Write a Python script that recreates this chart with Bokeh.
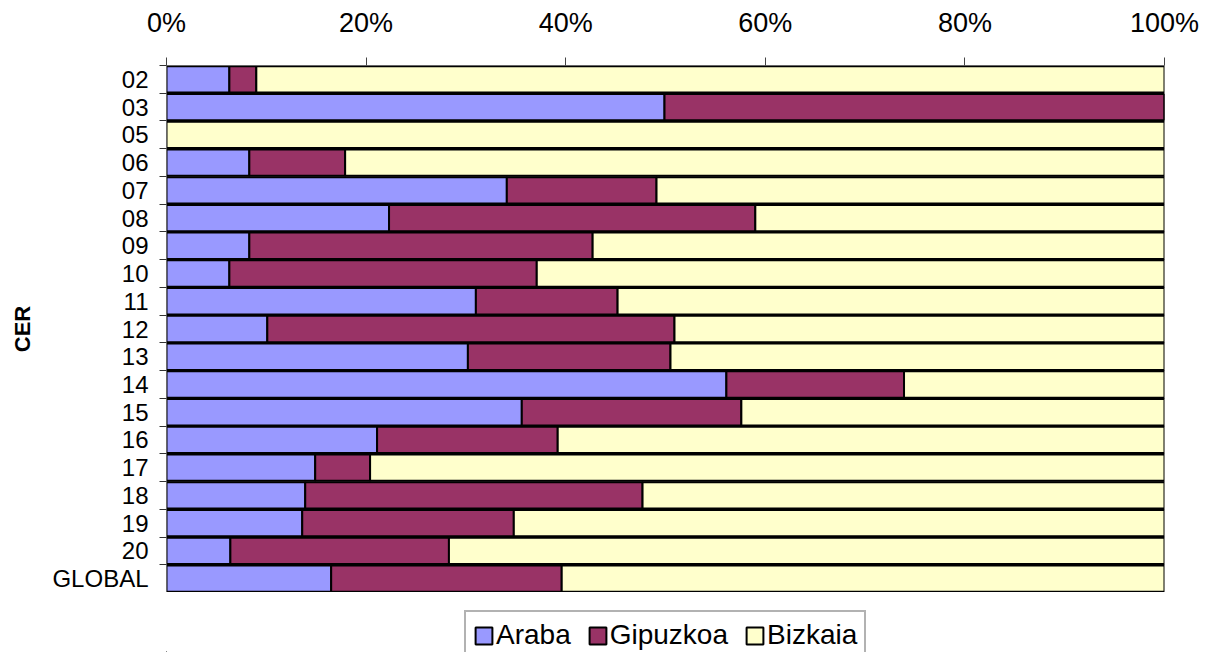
from bokeh.plotting import figure
from bokeh.layouts import column
from bokeh.models import FixedTicker, Legend, LegendItem, Range1d, ColumnDataSource
from bokeh.embed import file_html
from bokeh.resources import INLINE

categories = ["02", "03", "05", "06", "07", "08", "09", "10", "11", "12",
              "13", "14", "15", "16", "17", "18", "19", "20", "GLOBAL"]
araba = [6.3, 49.9, 0.0, 8.3, 34.1, 22.3, 8.3, 6.3, 31.0, 10.1,
         30.2, 56.1, 35.6, 21.1, 14.9, 13.9, 13.6, 6.4, 16.5]
gipuzkoa = [2.7, 50.1, 0.0, 9.6, 15.0, 36.7, 34.4, 30.8, 14.2, 40.8,
            20.3, 17.8, 22.0, 18.1, 5.5, 33.8, 21.2, 21.9, 23.1]
bizkaia = [91.0, 0.0, 100.0, 82.1, 50.9, 41.0, 57.3, 62.9, 54.8, 49.1,
           49.5, 26.1, 42.4, 60.8, 79.6, 52.3, 65.2, 71.7, 60.4]
series_names = ["Araba", "Gipuzkoa", "Bizkaia"]
colors = ["#9999FF", "#993366", "#FFFFCC"]
x_ticks = [0, 20, 40, 60, 80, 100]

n = len(categories)
ypos = [n - i - 0.5 for i in range(n)]
tot = [a + g + b for a, g, b in zip(araba, gipuzkoa, bizkaia)]
pa = [100 * a / t for a, t in zip(araba, tot)]
pg = [100 * g / t for g, t in zip(gipuzkoa, tot)]
c1 = pa
c2 = [a + g for a, g in zip(pa, pg)]

src = ColumnDataSource(dict(y=ypos, l0=[0] * n, r0=c1, l1=c1, r1=c2, l2=c2, r2=[100] * n))

p = figure(frame_width=998, frame_height=527, output_backend="svg", toolbar_location=None,
           x_range=Range1d(0, 100), y_range=Range1d(0, n),
           x_axis_location="above", min_border_left=166, min_border_right=37,
           min_border_top=65, min_border_bottom=0)
p.outline_line_color = None
p.xgrid.grid_line_color = None
p.ygrid.grid_line_color = None

for k, col in enumerate(colors):
    p.hbar(y="y", left="l%d" % k, right="r%d" % k, height=0.95, source=src,
           fill_color=col, line_color="black", line_width=2)

xa = p.xaxis[0]
xa.ticker = FixedTicker(ticks=x_ticks)
xa.major_label_overrides = {t: "%d%%" % t for t in x_ticks}
xa.major_label_text_font = "Liberation Sans"
xa.major_label_text_font_size = "27px"
xa.major_label_text_color = "black"
xa.major_tick_out = 8
xa.major_tick_in = 0
xa.minor_tick_out = 0
xa.minor_tick_in = 0
xa.major_label_standoff = 20
xa.axis_line_color = "#666666"
xa.major_tick_line_color = "#444444"

ya = p.yaxis[0]
ya.ticker = FixedTicker(ticks=ypos, minor_ticks=list(range(n + 1)))
ya.major_label_overrides = {y: c for y, c in zip(ypos, categories)}
ya.major_label_text_font = "Liberation Sans"
ya.major_label_text_font_size = "24px"
ya.major_label_text_color = "black"
ya.major_tick_out = 0
ya.major_tick_in = 0
ya.minor_tick_out = 7
ya.minor_tick_in = 0
ya.minor_tick_line_color = "#333333"
ya.major_label_standoff = 11
ya.axis_line_color = "#666666"
ya.axis_label = "CER"
ya.axis_label_text_font = "Liberation Sans"
ya.axis_label_text_font_style = "bold"
ya.axis_label_text_font_size = "22px"
ya.axis_label_text_color = "black"
ya.axis_label_standoff = 14

# legend strip below the chart
p2 = figure(frame_width=1201, frame_height=60, output_backend="svg", toolbar_location=None,
            x_range=Range1d(0, 1201), y_range=Range1d(0, 60),
            x_axis_type=None, y_axis_type=None,
            min_border_left=0, min_border_right=0, min_border_top=0, min_border_bottom=0)
p2.outline_line_color = None
p2.xgrid.grid_line_color = None
p2.ygrid.grid_line_color = None
lrends = []
for col in colors:
    lrends.append(p2.hbar(y=[-500], left=[-500], right=[-499], height=1,
                          fill_color=col, line_color="black", line_width=2))

legend = Legend(items=[LegendItem(label=nm, renderers=[r]) for nm, r in zip(series_names, lrends)],
                orientation="horizontal", location=(464, -8))
legend.label_text_font = "Liberation Sans"
legend.label_text_font_size = "28px"
legend.label_text_color = "black"
legend.glyph_width = 21
legend.glyph_height = 21
legend.label_standoff = 2
legend.spacing = 16
legend.padding = 7
legend.margin = 0
legend.border_line_color = "#666666"
legend.border_line_width = 2
legend.background_fill_color = "white"
p2.add_layout(legend)

layout = column(p, p2, spacing=0)
open("out.html", "w").write(file_html(layout, INLINE))
